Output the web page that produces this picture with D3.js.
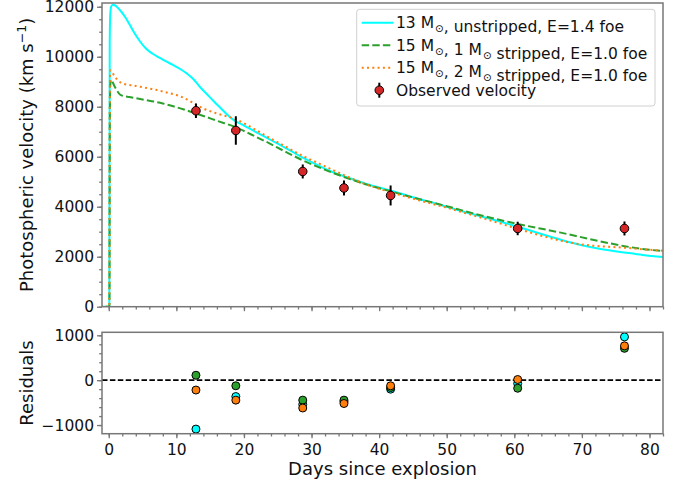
<!DOCTYPE html>
<html><head><meta charset="utf-8">
<script src="https://cdn.jsdelivr.net/npm/d3@7"></script>
<style>
body{margin:0;background:#fff}
svg{display:block}
text{font-family:"DejaVu Sans",sans-serif;fill:#111}
</style>
</head><body>
<svg id="c" width="681" height="483"></svg>
<script>
// ---------- data ----------
const obsDays = [12.9, 18.8, 28.7, 34.8, 41.7, 60.5, 76.3];
const obsVel  = [7840, 7050, 5410, 4750, 4450, 3130, 3130];
const obsErr  = [290, 570, 280, 300, 400, 270, 280];

const resCyan   = [-1090, -365, -540, -480, -200, -75, 965];
const resGreen  = [110, -125, -445, -445, -165, -180, 710];
const resOrange = [-220, -445, -620, -520, -125, 15, 765];

const cyanDays = [-2, 0.08, 0.14, 0.22, 0.35, 0.6, 0.9, 1.3, 1.8, 2.4, 3, 3.8, 4.6, 5.5, 6.5, 7.5, 8.5, 9.5, 10.5, 11.5, 12.5, 13.5, 14.5, 15.5, 16.5, 17.5, 18.5, 19.5, 21, 23, 25, 27, 28.7, 31, 33, 35, 38, 41.7, 45, 49, 52, 56, 60.5, 64, 67, 70, 73, 76.3, 79, 82];
const cyanVel  = [0, 0, 10500, 11700, 12000, 12080, 12060, 11970, 11820, 11600, 11330, 10950, 10620, 10330, 10120, 9960, 9810, 9670, 9520, 9340, 9110, 8790, 8510, 8230, 7960, 7690, 7465, 7320, 7100, 6810, 6520, 6220, 5960, 5650, 5400, 5200, 4920, 4650, 4380, 4080, 3840, 3550, 3200, 2910, 2670, 2460, 2300, 2170, 2070, 1990];

const greenDays = [-2, 0.1, 0.16, 0.22, 0.32, 0.5, 0.8, 1.2, 1.7, 2.3, 3, 4, 5, 6, 7, 8, 9, 10, 11, 12, 12.9, 14, 16, 18.8, 21, 23.5, 26, 28.7, 31.5, 34.8, 38, 41.7, 46, 50, 55, 60.5, 66.7, 71.6, 76.3, 79, 82];
const greenVel  = [0, 0, 7500, 8800, 9080, 9020, 8850, 8650, 8480, 8420, 8390, 8340, 8290, 8240, 8190, 8130, 8060, 7980, 7900, 7810, 7729, 7630, 7440, 7179, 6900, 6570, 6220, 5857, 5530, 5191, 4900, 4616, 4300, 4020, 3660, 3311, 2973, 2680, 2422, 2310, 2225];

const orangeDays = [-2, 0.08, 0.14, 0.2, 0.3, 0.5, 0.8, 1.2, 1.7, 2.3, 3, 4, 5, 6, 7, 8, 9, 10, 11, 12, 12.9, 14, 16, 18.8, 21, 23.5, 26, 28.7, 31.5, 34.8, 38, 41.7, 46, 50, 55, 60.5, 66.7, 69, 71.6, 74, 76.3, 79, 82];
const orangeVel  = [0, 0, 8000, 9300, 9460, 9380, 9250, 9100, 8980, 8910, 8870, 8830, 8780, 8730, 8680, 8610, 8540, 8470, 8370, 8230, 8080, 7930, 7730, 7497, 7190, 6800, 6430, 6035, 5680, 5266, 4900, 4579, 4250, 3960, 3570, 3118, 2653, 2530, 2440, 2395, 2360, 2300, 2240];

const xTicks = [0, 10, 20, 30, 40, 50, 60, 70, 80];
const yTopTicks = [0, 2000, 4000, 6000, 8000, 10000, 12000];
const yResTicks = [-1000, 0, 1000];

const legendLabels = [
  [["13 M"], ["⊙", "sub"], [", unstripped, E=1.4 foe"]],
  [["15 M"], ["⊙", "sub"], [", 1 M"], ["⊙", "sub"], [" stripped, E=1.0 foe"]],
  [["15 M"], ["⊙", "sub"], [", 2 M"], ["⊙", "sub"], [" stripped, E=1.0 foe"]],
  [["Observed velocity"]]
];

// ---------- layout ----------
const C_CYAN = "#00ffff", C_GREEN = "#2ca02c", C_ORANGE = "#ff7f0e", C_RED = "#d62728";
const SPINE = "#777777";
const L = 102, R = 663;
const topT = 3, topB = 306.7, resT = 332.3, resB = 433.7;
const TICKFONT = "15.5px", LABELFONT = "18px", LEGFONT = "15.5px";

const svg = d3.select("#c");
const x = d3.scaleLinear().domain([-1, 82]).range([L, R]);
const yTop = d3.scaleLinear().domain([0, 12150]).range([topB, topT]);
const yRes = d3.scaleLinear().domain([-1193, 1067]).range([resB, resT]);

svg.append("defs").append("clipPath").attr("id", "clipTop")
  .append("rect").attr("x", L).attr("y", topT).attr("width", R - L).attr("height", topB - topT);

function styleAxis(g) {
  g.select(".domain").remove();
  g.selectAll("line").attr("stroke", SPINE).attr("stroke-width", 1.3);
  g.selectAll("text").style("font-size", TICKFONT).attr("fill", "#111");
}
function minorTicks(lo, hi, step) { const a = []; for (let v = lo; v <= hi + 1e-9; v += step) a.push(+v.toFixed(6)); return a; }

// ---------- top panel ----------
// minor ticks
svg.append("g").attr("transform", `translate(${L},0)`)
  .call(d3.axisLeft(yTop).tickValues(minorTicks(0, 12000, 500)).tickSize(2.8).tickFormat(""))
  .call(styleAxis);
svg.append("g").attr("transform", `translate(${L},0)`)
  .call(d3.axisLeft(yTop).tickValues(yTopTicks).tickSize(5).tickPadding(3).tickFormat(d3.format("d")))
  .call(styleAxis);
svg.append("g").attr("transform", `translate(0,${topB})`)
  .call(d3.axisBottom(x).tickValues(minorTicks(0, 82, 2)).tickSize(2.8).tickFormat(""))
  .call(styleAxis);
svg.append("g").attr("transform", `translate(0,${topB})`)
  .call(d3.axisBottom(x).tickValues(xTicks).tickSize(4.5).tickFormat(""))
  .call(styleAxis);

const lineGen = (days, vals) => d3.line().curve(d3.curveMonotoneX)
  .x((d, i) => x(days[i])).y(d => yTop(d))(vals);

const curves = svg.append("g").attr("clip-path", "url(#clipTop)");
curves.append("path").attr("d", lineGen(cyanDays, cyanVel))
  .attr("fill", "none").attr("stroke", C_CYAN).attr("stroke-width", 2);
curves.append("path").attr("d", lineGen(greenDays, greenVel))
  .attr("fill", "none").attr("stroke", C_GREEN).attr("stroke-width", 2).attr("stroke-dasharray", "7.4,3.2");
curves.append("path").attr("d", lineGen(orangeDays, orangeVel))
  .attr("fill", "none").attr("stroke", C_ORANGE).attr("stroke-width", 2).attr("stroke-dasharray", "2,3.3");

// observed points
const obs = svg.append("g");
obsDays.forEach((d, i) => {
  obs.append("line").attr("x1", x(d)).attr("x2", x(d))
    .attr("y1", yTop(obsVel[i] - obsErr[i])).attr("y2", yTop(obsVel[i] + obsErr[i]))
    .attr("stroke", "#000").attr("stroke-width", 2);
  obs.append("circle").attr("cx", x(d)).attr("cy", yTop(obsVel[i])).attr("r", 4.3)
    .attr("fill", C_RED).attr("stroke", "#000").attr("stroke-width", 1);
});

// frame
svg.append("rect").attr("x", L).attr("y", topT).attr("width", R - L).attr("height", topB - topT)
  .attr("fill", "none").attr("stroke", SPINE).attr("stroke-width", 1.5);

// legend
const leg = svg.append("g");
leg.append("rect").attr("x", 356.7).attr("y", 9.3).attr("width", 298.3).attr("height", 96.7)
  .attr("rx", 3).attr("fill", "#fff").attr("fill-opacity", 0.8).attr("stroke", "#d0d0d0").attr("stroke-width", 1);
const rowY = [22.7, 45.2, 67.7, 90.2];
const legStyles = [
  {c: C_CYAN, dash: null}, {c: C_GREEN, dash: "7.4,3.2"}, {c: C_ORANGE, dash: "2,3.3"}
];
legStyles.forEach((s, i) => {
  const l = leg.append("line").attr("x1", 361.7).attr("x2", 393.5).attr("y1", rowY[i]).attr("y2", rowY[i])
    .attr("stroke", s.c).attr("stroke-width", 2);
  if (s.dash) l.attr("stroke-dasharray", s.dash);
});
leg.append("line").attr("x1", 379.3).attr("x2", 379.3).attr("y1", rowY[3] - 7.5).attr("y2", rowY[3] + 7.5)
  .attr("stroke", "#000").attr("stroke-width", 2);
leg.append("circle").attr("cx", 379.3).attr("cy", rowY[3]).attr("r", 4.3)
  .attr("fill", C_RED).attr("stroke", "#000").attr("stroke-width", 1);
legendLabels.forEach((segs, i) => {
  const t = leg.append("text").attr("x", 396).attr("y", rowY[i]).attr("dy", "0.36em").style("font-size", LEGFONT);
  segs.forEach(s => {
    if (s[1] === "sub") {
      t.append("tspan").text(s[0]).style("font-size", "10.5px").attr("dx", 1).attr("dy", 4);
      t.append("tspan").text("").attr("dy", -4);
    } else {
      t.append("tspan").text(s[0]);
    }
  });
});

// y label top
const yl = svg.append("text").attr("transform", `translate(33,${(topT + topB) / 2}) rotate(-90)`)
  .attr("text-anchor", "middle").style("font-size", LABELFONT);
yl.append("tspan").text("Photospheric velocity (km s");
yl.append("tspan").text("−1").style("font-size", "12.6px").attr("dy", "-0.55em");
yl.append("tspan").text(")").attr("dy", "0.38em");

// ---------- residual panel ----------
svg.append("g").attr("transform", `translate(${L},0)`)
  .call(d3.axisLeft(yRes).tickValues(minorTicks(-1000, 1000, 200)).tickSize(2.8).tickFormat(""))
  .call(styleAxis);
svg.append("g").attr("transform", `translate(${L},0)`)
  .call(d3.axisLeft(yRes).tickValues(yResTicks).tickSize(5).tickPadding(3).tickFormat(d3.format("d")))
  .call(styleAxis);
svg.append("g").attr("transform", `translate(0,${resB})`)
  .call(d3.axisBottom(x).tickValues(minorTicks(0, 82, 2)).tickSize(2.8).tickFormat(""))
  .call(styleAxis);
svg.append("g").attr("transform", `translate(0,${resB})`)
  .call(d3.axisBottom(x).tickValues(xTicks).tickSize(4.5).tickPadding(5.5).tickFormat(d3.format("d")))
  .call(styleAxis);

svg.append("line").attr("x1", L).attr("x2", R).attr("y1", yRes(0)).attr("y2", yRes(0))
  .attr("stroke", "#000").attr("stroke-width", 1.6).attr("stroke-dasharray", "5.5,2.4");

const resSets = [[resCyan, C_CYAN], [resGreen, C_GREEN], [resOrange, C_ORANGE]];
resSets.forEach(([arr, col]) => {
  svg.append("g").selectAll("circle").data(arr).join("circle")
    .attr("cx", (d, i) => x(obsDays[i])).attr("cy", d => yRes(d)).attr("r", 4)
    .attr("fill", col).attr("stroke", "#000").attr("stroke-width", 1);
});

svg.append("rect").attr("x", L).attr("y", resT).attr("width", R - L).attr("height", resB - resT)
  .attr("fill", "none").attr("stroke", SPINE).attr("stroke-width", 1.5);

svg.append("text").attr("transform", `translate(33,${(resT + resB) / 2}) rotate(-90)`)
  .attr("text-anchor", "middle").style("font-size", LABELFONT).text("Residuals");

svg.append("text").attr("x", (L + R) / 2).attr("y", 475).attr("text-anchor", "middle")
  .style("font-size", LABELFONT).text("Days since explosion");
</script>
</body></html>
